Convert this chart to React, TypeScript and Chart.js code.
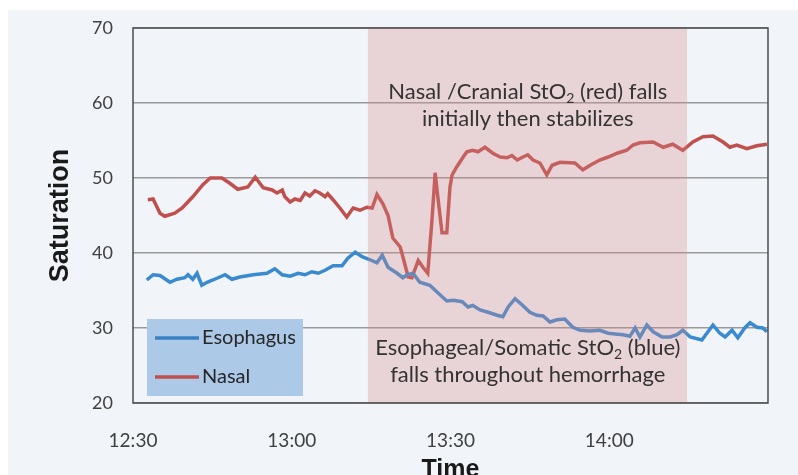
import React, { useEffect, useRef } from "react";
import { Chart, registerables } from "chart.js";

Chart.register(...registerables);

// Minutes after 12:30
const esophagusTimes = [2.6, 3.8, 5.1, 7.0, 8.3, 9.8, 10.4, 11.3, 12.1, 13.0, 14.0, 15.1, 16.4, 17.4, 18.7, 20.2, 22.7, 25.3, 26.8, 28.2, 29.7, 31.2, 32.5, 33.8, 35.0, 36.3, 37.8, 39.5, 40.6, 42.0, 43.3, 44.8, 46.1, 47.1, 48.2, 49.9, 51.0, 51.8, 52.9, 54.2, 56.1, 57.6, 59.3, 60.5, 62.2, 63.3, 64.2, 65.6, 67.1, 68.8, 69.9, 70.9, 72.2, 73.5, 75.0, 76.3, 77.5, 78.8, 80.1, 81.6, 83.1, 84.5, 86.4, 88.2, 89.8, 91.1, 92.6, 93.9, 94.9, 95.8, 97.1, 98.3, 100.0, 101.5, 102.8, 103.9, 105.3, 107.5, 109.6, 110.9, 111.9, 113.2, 114.3, 115.6, 116.6, 117.9, 119.0, 119.8];
const esophagusValues = [36.4, 37.1, 37.0, 36.1, 36.5, 36.7, 37.1, 36.5, 37.3, 35.7, 36.1, 36.4, 36.8, 37.1, 36.5, 36.8, 37.1, 37.3, 37.9, 37.1, 36.9, 37.3, 37.1, 37.5, 37.3, 37.7, 38.3, 38.3, 39.3, 40.1, 39.5, 39.1, 38.7, 39.7, 38.1, 37.3, 36.7, 37.1, 37.3, 36.1, 35.7, 34.7, 33.6, 33.7, 33.5, 32.8, 33.0, 32.4, 32.1, 31.7, 31.5, 32.8, 33.9, 33.1, 32.1, 31.7, 31.6, 30.8, 31.1, 31.2, 30.1, 29.7, 29.6, 29.7, 29.3, 29.2, 29.1, 28.9, 30.0, 28.8, 30.4, 29.5, 28.8, 28.8, 29.1, 29.7, 28.8, 28.4, 30.4, 29.3, 28.8, 29.7, 28.7, 30.0, 30.7, 30.1, 30.0, 29.5];

const nasalTimes = [2.8, 3.8, 5.1, 6.0, 7.9, 9.3, 11.3, 13.2, 14.6, 16.8, 18.3, 19.8, 21.7, 23.1, 24.6, 26.3, 27.2, 28.2, 28.7, 29.7, 30.6, 31.6, 32.5, 33.4, 34.4, 35.3, 36.3, 36.8, 37.8, 39.1, 40.4, 41.6, 42.9, 44.2, 45.2, 46.1, 47.2, 48.2, 49.1, 50.5, 51.0, 52.0, 52.7, 53.9, 54.8, 55.7, 56.5, 57.1, 57.6, 58.4, 59.3, 59.9, 60.3, 61.2, 62.4, 63.1, 64.2, 65.2, 66.5, 68.0, 69.4, 70.7, 71.6, 72.6, 73.7, 74.6, 75.6, 76.9, 78.2, 79.2, 80.7, 83.5, 85.0, 86.4, 88.2, 89.8, 91.5, 93.3, 94.5, 95.8, 98.3, 100.2, 102.0, 103.9, 105.8, 107.7, 109.6, 111.5, 112.8, 114.1, 116.0, 117.9, 119.8];
const nasalValues = [47.1, 47.2, 45.3, 44.9, 45.3, 46.0, 47.5, 49.1, 50.0, 50.0, 49.3, 48.5, 48.8, 50.1, 48.7, 48.4, 48.0, 48.4, 47.5, 46.8, 47.2, 47.0, 48.0, 47.6, 48.3, 48.0, 47.5, 47.9, 47.1, 46.0, 44.8, 46.0, 45.7, 46.1, 46.0, 47.8, 46.6, 45.0, 42.0, 40.8, 39.5, 36.8, 36.7, 39.0, 38.1, 37.3, 44.4, 50.7, 47.5, 42.7, 42.7, 48.8, 50.4, 51.5, 52.8, 53.5, 53.7, 53.5, 54.1, 53.3, 52.8, 52.7, 53.0, 52.4, 52.8, 53.1, 52.4, 52.0, 50.4, 51.7, 52.1, 52.0, 51.1, 51.7, 52.4, 52.8, 53.3, 53.7, 54.4, 54.7, 54.8, 54.1, 54.5, 53.7, 54.8, 55.5, 55.6, 54.8, 54.1, 54.4, 53.9, 54.3, 54.5];

const seriesLabels = ["Esophagus", "Nasal"];
const seriesColors = ["#3a8ad0", "#c0504d"];
const legendLineColors = ["#3a80c2", "#c0504d"];

const xTickLabels = ["12:30", "13:00", "13:30", "14:00"];
const xMin = 0;
const xMax = 120;
const yMin = 20;
const yMax = 70;

// hemorrhage window (minutes after 12:30)
const shadeStart = 44.4;
const shadeEnd = 104.7;

// annotations: segments alternate normal / subscript
const nasalNote = [["Nasal /Cranial StO", "2", " (red) falls"], ["initially then stabilizes"]];
const nasalNoteX = 74.6;
const nasalNoteY = [60.5, 56.9];
const esoNote = [["Esophageal/Somatic StO", "2", " (blue)"], ["falls throughout hemorrhage"]];
const esoNoteX = 74.6;
const esoNoteY = [26.4, 22.8];

const FONT = "Lato, 'Open Sans', sans-serif";
const NOTE_SIZE = 22;

const overlayPlugin = {
  id: "overlay",
  afterDatasetsDraw(chart: any) {
    const { ctx, chartArea, scales } = chart;
    const x0 = scales.x.getPixelForValue(shadeStart);
    const x1 = scales.x.getPixelForValue(shadeEnd);
    ctx.save();
    ctx.fillStyle = "rgba(211,137,135,0.3)";
    ctx.fillRect(x0, chartArea.top, x1 - x0, chartArea.bottom - chartArea.top);
    ctx.restore();
  },
  afterDraw(chart: any) {
    const { ctx, chartArea, scales } = chart;
    ctx.save();
    // annotations
    const drawNote = (lines: string[][], xv: number, yvs: number[]) => {
      const cx = scales.x.getPixelForValue(xv);
      lines.forEach((segs, li) => {
        const by = scales.y.getPixelForValue(yvs[li]);
        let total = 0;
        segs.forEach((s, i) => {
          ctx.font = `${i % 2 === 1 ? Math.round(NOTE_SIZE * 0.62) : NOTE_SIZE}px ${FONT}`;
          total += ctx.measureText(s).width;
        });
        let x = cx - total / 2;
        ctx.fillStyle = "#333333";
        ctx.textBaseline = "alphabetic";
        ctx.textAlign = "left";
        segs.forEach((s, i) => {
          const sub = i % 2 === 1;
          ctx.font = `${sub ? Math.round(NOTE_SIZE * 0.62) : NOTE_SIZE}px ${FONT}`;
          ctx.fillText(s, x, by + (sub ? 4 : 0));
          x += ctx.measureText(s).width;
        });
      });
    };
    drawNote(nasalNote, nasalNoteX, nasalNoteY);
    drawNote(esoNote, esoNoteX, esoNoteY);

    // legend box
    const bx = chartArea.left + 14;
    const bw = 156;
    const bh = 77;
    const by = chartArea.bottom - 7 - bh;
    ctx.fillStyle = "#adc9e8";
    ctx.fillRect(bx, by, bw, bh);
    ctx.font = `20px ${FONT}`;
    ctx.textBaseline = "middle";
    ctx.textAlign = "left";
    chart.data.datasets.forEach((ds: any, i: number) => {
      const ly = by + 19 + i * 39;
      ctx.strokeStyle = legendLineColors[i];
      ctx.lineWidth = 3.5;
      ctx.beginPath();
      ctx.moveTo(bx + 8, ly);
      ctx.lineTo(bx + 52, ly);
      ctx.stroke();
      ctx.fillStyle = "#262626";
      ctx.fillText(ds.label, bx + 55, ly);
    });

    // plot border
    ctx.strokeStyle = "#4d4d4d";
    ctx.lineWidth = 1.5;
    ctx.strokeRect(chartArea.left, chartArea.top, chartArea.right - chartArea.left, chartArea.bottom - chartArea.top);
    ctx.restore();
  },
};

export default function App() {
  const ref = useRef<HTMLCanvasElement>(null);
  useEffect(() => {
    if (!ref.current) return;
    const mk = (ts: number[], vs: number[]) => ts.map((t, i) => ({ x: t, y: vs[i] }));
    const chart = new Chart(ref.current, {
      type: "line",
      data: {
        datasets: [
          {
            label: seriesLabels[0],
            data: mk(esophagusTimes, esophagusValues),
            borderColor: seriesColors[0],
            borderWidth: 3.5,
            pointRadius: 0,
            tension: 0,
          },
          {
            label: seriesLabels[1],
            data: mk(nasalTimes, nasalValues),
            borderColor: seriesColors[1],
            borderWidth: 3.5,
            pointRadius: 0,
            tension: 0,
          },
        ],
      },
      options: {
        animation: false,
        responsive: false,
        devicePixelRatio: 1,
        layout: { padding: { top: 18, right: 30, left: 0, bottom: 0 } },
        plugins: { legend: { display: false }, tooltip: { enabled: false } },
        scales: {
          x: {
            type: "linear",
            min: xMin,
            max: xMax,
            grid: { display: false },
            border: { display: false },
            ticks: {
              stepSize: 30,
              padding: 18,
              color: "#404040",
              font: { family: FONT, size: 19 },
              maxRotation: 0,
              callback: (v: any) => xTickLabels[Math.round(Number(v) / 30)] ?? "",
            },
            title: {
              display: true,
              text: "Time",
              color: "#1a1a1a",
              font: { family: "'Liberation Sans', Arial, sans-serif", size: 25, weight: "bold" },
              padding: { top: 0, bottom: 5 },
            },
            afterFit: (s: any) => {
              s.height = 87;
              s.paddingLeft = 0;
              s.paddingRight = 0;
            },
          },
          y: {
            min: yMin,
            max: yMax,
            grid: { color: "#9a9a9a", lineWidth: 1.5, drawTicks: false },
            border: { display: false },
            ticks: {
              stepSize: 10,
              padding: 20,
              color: "#404040",
              font: { family: FONT, size: 18 },
            },
            title: {
              display: true,
              text: "Saturation",
              color: "#1a1a1a",
              font: { family: "'Liberation Sans', Arial, sans-serif", size: 27, weight: "bold" },
              padding: { top: 36, bottom: 0 },
            },
            afterFit: (s: any) => {
              s.width = 125;
              s.paddingTop = 0;
              s.paddingBottom = 0;
            },
          },
        },
      },
      plugins: [overlayPlugin],
    });
    return () => chart.destroy();
  }, []);
  return (
    <div
      style={{
        position: "absolute",
        left: 8,
        top: 10,
        width: 790,
        height: 465,
        overflow: "hidden",
        background: "#f1f4f8",
      }}
    >
      <canvas ref={ref} width={790} height={480} style={{ display: "block" }} />
    </div>
  );
}
